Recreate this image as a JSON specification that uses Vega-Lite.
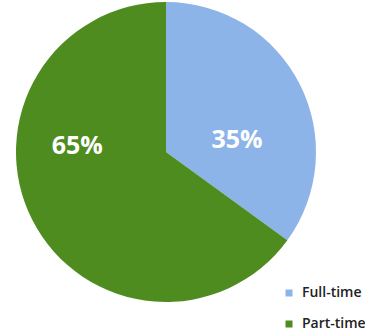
{
  "$schema": "https://vega.github.io/schema/vega-lite/v6.json",
  "width": 332,
  "height": 304,
  "padding": {"left": 0, "top": 0, "right": 33, "bottom": 32},
  "autosize": {"type": "none"},
  "background": "white",
  "view": {"stroke": null},
  "data": {"values": [
    {"type": "Full-time", "value": 35, "label": "35%"},
    {"type": "Part-time", "value": 65, "label": "65%"}
  ]},
  "encoding": {
    "theta": {"field": "value", "type": "quantitative", "stack": true},
    "color": {
      "field": "type", "type": "nominal",
      "scale": {"domain": ["Full-time", "Part-time"], "range": ["#8db4e8", "#4e8c1f"]},
      "legend": {
        "title": null, "orient": "none", "legendX": 282, "legendY": 286,
        "symbolType": "square", "symbolSize": 49, "symbolStrokeWidth": 0,
        "labelFont": "Open Sans", "labelFontSize": 14, "labelFontWeight": 600, "labelColor": "#222222",
        "labelOffset": 6, "rowPadding": 17
      }
    }
  },
  "layer": [
    {"mark": {"type": "arc", "radius": 150, "stroke": null}},
    {
      "mark": {
        "type": "text", "radius": {"expr": "datum.type == 'Full-time' ? 72 : 89"},
        "thetaOffset": {"expr": "datum.type == 'Full-time' ? 0.3 : 0.54"},
        "font": "Open Sans", "fontSize": 25, "fontWeight": "bold", "fill": "white",
        "align": "center", "baseline": "middle"
      },
      "encoding": {
        "text": {"field": "label"},
        "color": {"value": "white"}
      }
    }
  ]
}
